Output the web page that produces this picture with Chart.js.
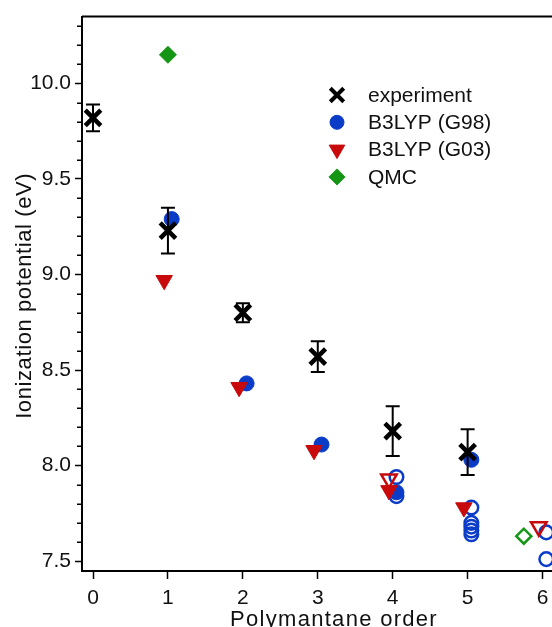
<!DOCTYPE html>
<html>
<head>
<meta charset="utf-8">
<script src="https://cdn.jsdelivr.net/npm/chart.js@4.4.2/dist/chart.umd.min.js"></script>
<style>
  html, body { margin: 0; padding: 0; background: #fff; overflow: hidden; }
  #wrap { width: 552px; height: 627px; overflow: hidden; }
  #wrap canvas { display: block; }
</style>
</head>
<body>
<div id="wrap"><canvas id="ip-chart" width="600" height="627"></canvas></div>
<script>
// --- data ---
const expOrder = [0, 1, 2, 3, 4, 5];
const expIP = [9.82, 9.23, 8.80, 8.57, 8.18, 8.07];
const expErr = [0.07, 0.12, 0.05, 0.08, 0.13, 0.12];

const g98Order = [1.05, 2.05, 3.05, 4.05, 5.05];
const g98IP = [9.29, 8.43, 8.11, 7.86, 8.03];
// other isomers (open symbols)
const g98IsoOrder = [4.05, 4.05, 5.05, 5.05, 5.05, 5.05, 5.05, 6.05, 6.05];
const g98IsoIP = [7.94, 7.84, 7.78, 7.70, 7.68, 7.66, 7.64, 7.65, 7.51];

const g03Order = [0.95, 1.95, 2.95, 3.95, 4.95];
const g03IP = [8.97, 8.41, 8.08, 7.87, 7.78];
const g03IsoOrder = [3.95, 5.95];
const g03IsoIP = [7.93, 7.68];

const qmcOrder = [1];
const qmcIP = [10.15];
const qmcIsoOrder = [5.75];
const qmcIsoIP = [7.63];

const xTicks = [0, 1, 2, 3, 4, 5, 6];
const yTicks = [7.5, 8.0, 8.5, 9.0, 9.5, 10.0];

const BLACK = '#000';
const BLUE = '#0b3cc8';
const RED = '#c80a0c';
const GREEN = '#149614';
const FONT = "'Liberation Sans', Arial, Helvetica, sans-serif";

function pts(xs, ys) {
  return xs.map((x, i) => ({ x, y: ys[i] }));
}

const styles = {
  exp: { pointStyle: 'crossRot', radius: 11, rotation: 0, borderWidth: 4.5, borderColor: BLACK, backgroundColor: BLACK },
  g98: { pointStyle: 'circle', radius: 7.5, rotation: 0, borderWidth: 1, borderColor: BLUE, backgroundColor: BLUE },
  g98Iso: { pointStyle: 'circle', radius: 6.8, rotation: 0, borderWidth: 2.5, borderColor: BLUE, backgroundColor: 'rgba(0,0,0,0)' },
  g03: { pointStyle: 'triangle', radius: 9.5, rotation: 180, borderWidth: 1, borderColor: RED, backgroundColor: RED },
  g03Iso: { pointStyle: 'triangle', radius: 9, rotation: 180, borderWidth: 2.5, borderColor: RED, backgroundColor: 'rgba(0,0,0,0)' },
  qmc: { pointStyle: 'rectRot', radius: 8.5, rotation: 0, borderWidth: 1, borderColor: GREEN, backgroundColor: GREEN },
  qmcIso: { pointStyle: 'rectRot', radius: 7.5, rotation: 0, borderWidth: 2.5, borderColor: GREEN, backgroundColor: 'rgba(0,0,0,0)' }
};

function ds(label, data, st) {
  return {
    label,
    data,
    showLine: false,
    pointStyle: st.pointStyle,
    pointRadius: st.radius,
    pointHoverRadius: st.radius,
    pointRotation: st.rotation,
    pointBorderWidth: st.borderWidth,
    pointBorderColor: st.borderColor,
    pointBackgroundColor: st.backgroundColor
  };
}

// error bars, minor ticks, frame, legend and axis titles
const extras = {
  id: 'extras',
  afterDatasetsDraw(chart) {
    const { ctx, scales: { x, y } } = chart;
    ctx.save();
    ctx.strokeStyle = BLACK;
    ctx.lineWidth = 2;
    expOrder.forEach((o, i) => {
      const px = x.getPixelForValue(o);
      const top = y.getPixelForValue(expIP[i] + expErr[i]);
      const bot = y.getPixelForValue(expIP[i] - expErr[i]);
      ctx.beginPath();
      ctx.moveTo(px, top); ctx.lineTo(px, bot);
      ctx.moveTo(px - 7, top); ctx.lineTo(px + 7, top);
      ctx.moveTo(px - 7, bot); ctx.lineTo(px + 7, bot);
      ctx.stroke();
    });
    ctx.restore();
  },
  afterDraw(chart) {
    const { ctx, chartArea: a, scales: { y } } = chart;
    ctx.save();
    // frame top and right
    ctx.strokeStyle = BLACK;
    ctx.lineWidth = 2;
    ctx.beginPath();
    ctx.moveTo(a.left, a.top); ctx.lineTo(a.right, a.top); ctx.lineTo(a.right, a.bottom);
    ctx.stroke();
    // minor ticks every 0.1
    ctx.lineWidth = 1.5;
    for (let k = 75; k <= 103; k++) {
      if (k % 5 === 0) continue;
      const py = Math.round(y.getPixelForValue(k / 10)) + 0.25;
      ctx.beginPath();
      ctx.moveTo(a.left - 5, py); ctx.lineTo(a.left, py);
      ctx.stroke();
    }
    // legend
    const entries = [
      ['experiment', styles.exp],
      ['B3LYP (G98)', styles.g98],
      ['B3LYP (G03)', styles.g03],
      ['QMC', styles.qmc]
    ];
    ctx.font = '21px ' + FONT;
    ctx.textBaseline = 'middle';
    ctx.textAlign = 'left';
    entries.forEach(([txt, st], i) => {
      const ly = 95 + i * 27.3;
      ctx.fillStyle = st.backgroundColor;
      ctx.strokeStyle = st.borderColor;
      ctx.lineWidth = st.pointStyle === 'crossRot' ? 4 : st.borderWidth;
      const r = st.pointStyle === 'crossRot' ? 9.5 : st.radius - 0.5;
      Chart.helpers.drawPoint(ctx, { pointStyle: st.pointStyle, radius: r, rotation: st.rotation, borderWidth: ctx.lineWidth }, 337, ly);
      ctx.fillStyle = '#111';
      ctx.fillText(txt, 368, ly + 1);
    });
    // axis titles
    ctx.fillStyle = '#111';
    ctx.font = '22px ' + FONT;
    ctx.textAlign = 'center';
    ctx.textBaseline = 'alphabetic';
    ctx.letterSpacing = '1.3px';
    ctx.fillText('Polymantane order', 334, 626);
    ctx.letterSpacing = '0.6px';
    ctx.translate(31, (a.top + a.bottom) / 2 + 2);
    ctx.rotate(-Math.PI / 2);
    ctx.fillText('Ionization potential (eV)', 0, 0);
    ctx.restore();
  }
};

const tickFont = { family: FONT, size: 21 };

new Chart(document.getElementById('ip-chart'), {
  type: 'scatter',
  data: {
    datasets: [
      ds('experiment', pts(expOrder, expIP), styles.exp),
      ds('B3LYP (G03)', pts(g03Order, g03IP), styles.g03),
      ds('B3LYP (G03) isomers', pts(g03IsoOrder, g03IsoIP), styles.g03Iso),
      ds('B3LYP (G98)', pts(g98Order, g98IP), styles.g98),
      ds('B3LYP (G98) isomers', pts(g98IsoOrder, g98IsoIP), styles.g98Iso),
      ds('QMC', pts(qmcOrder, qmcIP), styles.qmc),
      ds('QMC isomers', pts(qmcIsoOrder, qmcIsoIP), styles.qmcIso)
    ]
  },
  options: {
    responsive: false,
    animation: false,
    layout: { padding: { top: 14, right: 15, left: 0, bottom: 0 } },
    plugins: { legend: { display: false }, tooltip: { enabled: false } },
    scales: {
      x: {
        type: 'linear',
        min: -0.147,
        max: 6.56,
        afterFit: s => { s.height = 56; },
        afterBuildTicks: s => { s.ticks = xTicks.map(v => ({ value: v })); },
        grid: { drawOnChartArea: false, drawTicks: true, tickLength: 8, tickColor: BLACK, tickWidth: 1.5 },
        border: { color: BLACK, width: 2 },
        ticks: { font: tickFont, color: '#111', padding: 7, maxRotation: 0, callback: v => String(v) }
      },
      y: {
        type: 'linear',
        min: 7.448,
        max: 10.35,
        afterFit: s => { s.width = 82; },
        afterBuildTicks: s => { s.ticks = yTicks.map(v => ({ value: v })); },
        grid: { drawOnChartArea: false, drawTicks: true, tickLength: 7, tickColor: BLACK, tickWidth: 1.5 },
        border: { color: BLACK, width: 2 },
        ticks: { font: tickFont, color: '#111', padding: 4, callback: v => Number(v).toFixed(1) }
      }
    }
  },
  plugins: [extras]
});
</script>
</body>
</html>
